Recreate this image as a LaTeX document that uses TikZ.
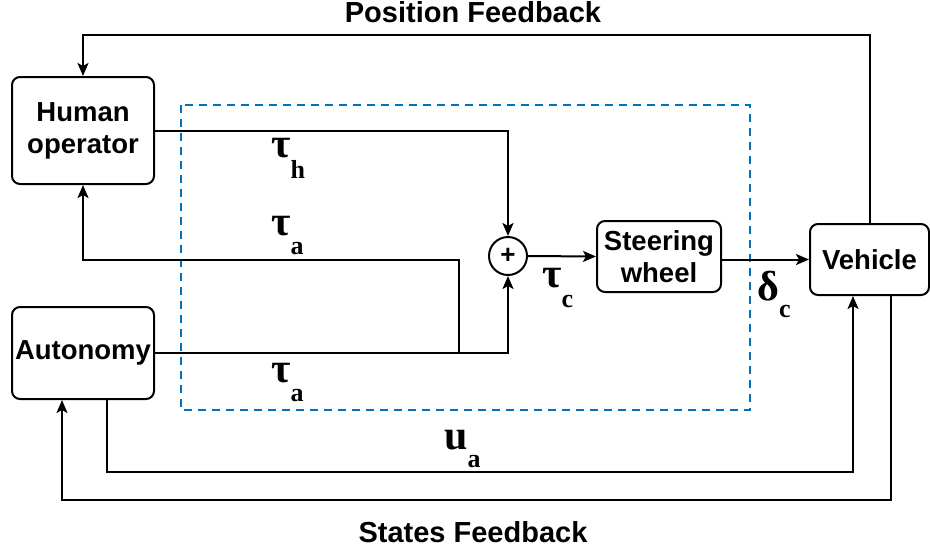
\documentclass[tikz,border=0pt]{standalone}
\usepackage{fontspec}
\usetikzlibrary{arrows.meta}
\newfontfamily\lblfont{Liberation Sans}
\newfontfamily\symfont{Liberation Serif}
\definecolor{dashblue}{RGB}{0,114,189}
\newcommand\symlbl[3]{{\symfont\bfseries\fontsize{42}{42}\selectfont #1}\raisebox{-#3pt}{\symfont\bfseries\fontsize{26}{26}\selectfont #2}}
\begin{document}
\begin{tikzpicture}[x=1pt,y=-1pt,
  blk/.style={draw, line width=2pt, rounded corners=8pt, align=center, inner sep=0pt,
    font=\lblfont\bfseries\fontsize{27.5}{32}\selectfont},
  arr/.style={line width=2pt, -{Stealth[length=13pt,width=11pt,inset=3pt]}},
  dashbox/.style={draw=dashblue, line width=2pt, dash pattern=on 8pt off 6pt},
  txt/.style={inner sep=0pt, font=\lblfont\bfseries\fontsize{29}{32}\selectfont},
  sym/.style={inner sep=0pt, anchor=base west}]
\useasboundingbox (0,0) rectangle (930,550);
% dashed region
\draw[dashbox] (181,105) rectangle (750,410);
% blocks
\node[blk, minimum width=142pt, minimum height=107pt] (human) at (83,130.5) {Human\\operator};
\node[blk, minimum width=142pt, minimum height=92pt] (autonomy) at (83,353) {Autonomy};
\node[blk, minimum width=124pt, minimum height=71pt] (steering) at (659,256.5) {Steering\\wheel};
\node[blk, minimum width=119pt, minimum height=71pt] (vehicle) at (869.5,259.5) {Vehicle};
\node[draw, circle, line width=2pt, minimum size=38pt, inner sep=0pt,
  font=\lblfont\bfseries\fontsize{26}{26}\selectfont] (sum) at (508,256) {+};
% helper coordinates
\coordinate (pftop) at (480,35);
\coordinate (tafb) at (300,260);
\coordinate (j1) at (459,353);
\coordinate (ua) at (480,472);
\coordinate (sf) at (480,500);
% connectors
\draw[arr] (vehicle.north) |- (pftop) -| (human.north);
\draw[arr] (human.east) -| (sum.north);
\draw[arr] (autonomy.east) -| (sum.south);
\draw[arr] (j1) |- (tafb) -| (human.south);
\draw[arr] (sum.east) -- (steering.west);
\draw[arr] (steering.east |- vehicle.west) -- (vehicle.west);
\draw[arr] ([xshift=24pt]autonomy.south) |- (ua) -| ([xshift=-16.5pt]vehicle.south);
\draw[arr] ([xshift=21.5pt]vehicle.south) |- (sf) -| ([xshift=-21pt]autonomy.south);
% labels
\node[txt, anchor=base] (pflbl) at (473,22) {Position Feedback};
\node[txt, anchor=base] (sflbl) at (473,542) {States Feedback};
\node[sym] (tauh) at (271,157) {\symlbl{τ}{h}{21}};
\node[sym] (taua1) at (271,235) {\symlbl{τ}{a}{19}};
\node[sym] (taua2) at (271,382) {\symlbl{τ}{a}{19}};
\node[sym] (tauc) at (542,287) {\symlbl{τ}{c}{20}};
\node[sym] (deltac) at (757,300) {\symlbl{δ}{c}{17}};
\node[sym] (ua_lbl) at (444,449) {\symlbl{u}{a}{18}};
\end{tikzpicture}
\end{document}
